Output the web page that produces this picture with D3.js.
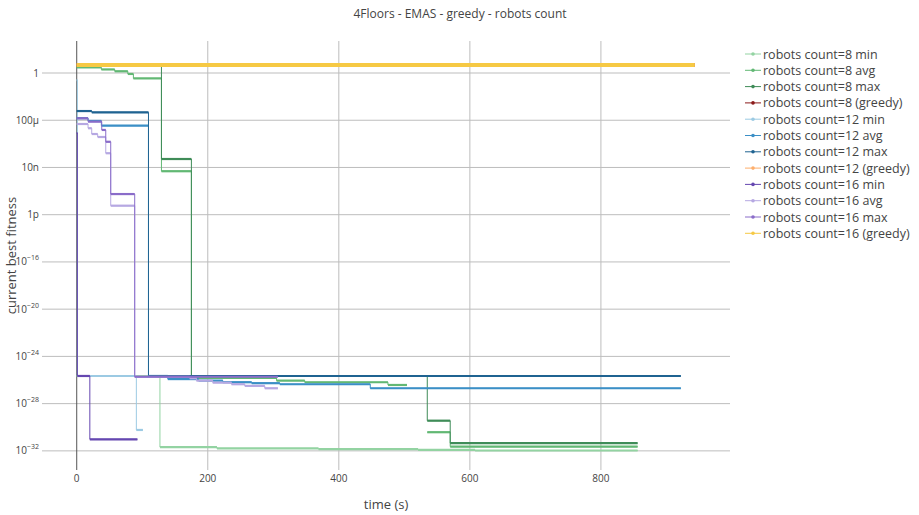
<!DOCTYPE html>
<html>
<head>
<meta charset="utf-8">
<script src="https://cdn.jsdelivr.net/npm/d3@7"></script>
<style>
body { margin: 0; background: #fff; }
text { font-family: "Open Sans", verdana, arial, sans-serif; fill: #444; }
</style>
</head>
<body>
<div id="chart"></div>
<script>
const width = 919;
const height = 515;
const plotLeft = 42, plotRight = 730, plotTop = 41, plotBottom = 470;

// series: time (s) and current best fitness, stepwise
const r8minT = [0, 127, 214, 369, 521, 608, 856];
const r8minV = [2.2e-26, 2.1e-32, 1.6e-32, 1.4e-32, 1.2e-32, 1.07e-32, 1.07e-32];
const r8avgT = [0, 37.6, 58, 78, 86.5, 129.3, 175, 305, 348, 475, 504, 520, 535, 570, 856];
const r8avgV = [3.0, 2.0, 1.4, 0.83, 0.35, 4.8e-9, 1.5e-26, 8.9e-27, 6.5e-27, 3.8e-27, 3.8e-27, null, 3.8e-31, 2.3e-32, 2.3e-32];
const r8maxT = [0, 129.3, 175, 535, 570, 856];
const r8maxV = [3.9, 5.2e-8, 2.2e-26, 3.6e-30, 4.5e-32, 4.5e-32];
const r8greedyT = [0, 943];
const r8greedyV = [4.8, 4.8];

const r12minT = [0, 1, 91, 101];
const r12minV = [0.25, 2.2e-26, 5.9e-31, 5.9e-31];
const r12avgT = [0, 17.3, 37.6, 109.5, 139, 186, 223, 267, 310, 448, 922];
const r12avgV = [1.5e-4, 8.7e-5, 3.5e-5, 2.2e-26, 1.2e-26, 8.9e-27, 6.5e-27, 5.4e-27, 4.4e-27, 2.0e-27, 2.0e-27];
const r12maxT = [0, 23, 109.5, 922];
const r12maxV = [6.0e-4, 4.7e-4, 2.2e-26, 2.2e-26];
const r12greedyT = [0, 943];
const r12greedyV = [4.8, 4.8];

const r16minT = [0, 1, 20, 92.6];
const r16minV = [8.3e-6, 2.2e-26, 9.5e-32, 9.5e-32];
const r16avgT = [0, 17.3, 22.9, 32, 44.3, 51.9, 88.5, 172.5, 182.7, 207.6, 236.2, 256.5, 287, 307];
const r16avgV = [4.8e-5, 2.1e-5, 6.8e-6, 3.8e-6, 1.6e-7, 5.8e-12, 1.9e-26, 1.4e-26, 8.9e-27, 6.0e-27, 4.4e-27, 3.2e-27, 2.0e-27, 2.0e-27];
const r16maxT = [0, 17.3, 38.2, 44.3, 51.9, 88.5, 307];
const r16maxV = [1.45e-4, 7.6e-5, 1.5e-5, 1.5e-6, 5.6e-11, 1.9e-26, 1.9e-26];
const r16greedyT = [0, 943];
const r16greedyV = [4.8, 4.8];

const seriesNames = [
	"robots count=8 min", "robots count=8 avg", "robots count=8 max", "robots count=8 (greedy)",
	"robots count=12 min", "robots count=12 avg", "robots count=12 max", "robots count=12 (greedy)",
	"robots count=16 min", "robots count=16 avg", "robots count=16 max", "robots count=16 (greedy)"
];
const seriesColors = [
	"#93d3a2", "#62b874", "#3f8c58", "#8b1a1a",
	"#9ccae3", "#3b8fc6", "#1f6391", "#fdae6b",
	"#6547b0", "#b6a8e2", "#8a6cc9", "#f6c944"
];
const seriesT = [r8minT, r8avgT, r8maxT, r8greedyT, r12minT, r12avgT, r12maxT, r12greedyT, r16minT, r16avgT, r16maxT, r16greedyT];
const seriesV = [r8minV, r8avgV, r8maxV, r8greedyV, r12minV, r12avgV, r12maxV, r12greedyV, r16minV, r16avgV, r16maxV, r16greedyV];

const xTicks = [0, 200, 400, 600, 800];
const yTickVals = [1, 1e-4, 1e-8, 1e-12, 1e-16, 1e-20, 1e-24, 1e-28, 1e-32];
const yTickLabels = ["1", "100µ", "10n", "1p", "10^−16", "10^−20", "10^−24", "10^−28", "10^−32"];

var svg = d3.select("#chart")
	.append("svg")
	.attr("width", width)
	.attr("height", height);

var x = d3.scaleLinear().domain([-53, 997]).range([plotLeft, plotRight]);
var y = d3.scaleLog().domain([Math.pow(10, -33.62), Math.pow(10, 2.71)]).range([plotBottom, plotTop]);

// grid
svg.append("g")
	.selectAll("line")
	.data(yTickVals)
	.enter()
	.append("line")
	.attr("x1", plotLeft).attr("x2", plotRight)
	.attr("y1", (d) => y(d)).attr("y2", (d) => y(d))
	.attr("stroke", "#bdbdbd")
	.attr("stroke-width", 1);

svg.append("g")
	.selectAll("line")
	.data(xTicks)
	.enter()
	.append("line")
	.attr("x1", (d) => x(d)).attr("x2", (d) => x(d))
	.attr("y1", plotTop).attr("y2", plotBottom)
	.attr("stroke", (d) => d === 0 ? "#555" : "#bdbdbd")
	.attr("stroke-width", 1);

// tick labels
svg.append("g")
	.selectAll("text")
	.data(xTicks)
	.enter()
	.append("text")
	.attr("x", (d) => x(d))
	.attr("y", 482)
	.attr("text-anchor", "middle")
	.style("font-size", "10px")
	.text((d) => d);

var yLab = svg.append("g")
	.selectAll("text")
	.data(yTickVals)
	.enter()
	.append("text")
	.attr("x", 39)
	.attr("y", (d) => y(d) + 3.5)
	.attr("text-anchor", "end")
	.style("font-size", "10px");

yLab.each(function (d, i) {
	var parts = yTickLabels[i].split("^");
	var t = d3.select(this);
	t.append("tspan").text(parts[0]);
	if (parts.length > 1) {
		t.append("tspan")
			.attr("dy", -5)
			.style("font-size", "7px")
			.text(parts[1]);
	}
});

// series
var line = d3.line()
	.defined((d) => d[1] != null)
	.x((d) => x(d[0]))
	.y((d) => y(d[1]))
	.curve(d3.curveStepAfter);

var plot = svg.append("g");

seriesT.forEach(function (ts, k) {
	var pts = ts.map((t, i) => [t, seriesV[k][i]]);
	var greedy = seriesNames[k].indexOf("greedy") >= 0;
	var g = plot.append("g").attr("class", "series");

	g.append("path")
		.attr("d", line(pts))
		.attr("fill", "none")
		.attr("stroke", seriesColors[k])
		.attr("stroke-width", 1);

	// plateaus look heavier in the original (dense markers)
	var segs = [];
	for (var i = 0; i < pts.length - 1; i++) {
		if (pts[i][1] != null && pts[i + 1][1] != null) {
			segs.push([pts[i], [pts[i + 1][0], pts[i][1]]]);
		}
	}
	g.selectAll(".plateau")
		.data(segs)
		.enter()
		.append("path")
		.attr("class", "plateau")
		.attr("d", (s) => d3.line().x((d) => x(d[0])).y((d) => y(d[1]))(s))
		.attr("fill", "none")
		.attr("stroke", seriesColors[k])
		.attr("stroke-width", greedy ? 4 : 2.2);
});

// titles
svg.append("text")
	.attr("x", 460)
	.attr("y", 18)
	.attr("text-anchor", "middle")
	.style("font-size", "12px")
	.text("4Floors - EMAS - greedy - robots count");

svg.append("text")
	.attr("x", (plotLeft + plotRight) / 2)
	.attr("y", 509)
	.attr("text-anchor", "middle")
	.style("font-size", "13px")
	.text("time (s)");

svg.append("text")
	.attr("transform", `translate(16, ${(plotTop + plotBottom) / 2}) rotate(-90)`)
	.attr("text-anchor", "middle")
	.style("font-size", "13px")
	.text("current best fitness");

// legend
var legend = svg.append("g")
	.selectAll("g")
	.data(seriesNames)
	.enter()
	.append("g")
	.attr("transform", (d, i) => `translate(745, ${54 + i * 16.3})`);

legend.append("line")
	.attr("x1", 0).attr("x2", 16)
	.attr("stroke", (d, i) => seriesColors[i])
	.attr("stroke-width", 1);

legend.append("circle")
	.attr("cx", 8)
	.attr("r", 1.8)
	.attr("fill", (d, i) => seriesColors[i]);

legend.append("text")
	.attr("x", 18)
	.attr("y", 4.5)
	.style("font-size", "12.5px")
	.text((d) => d);
</script>
</body>
</html>
